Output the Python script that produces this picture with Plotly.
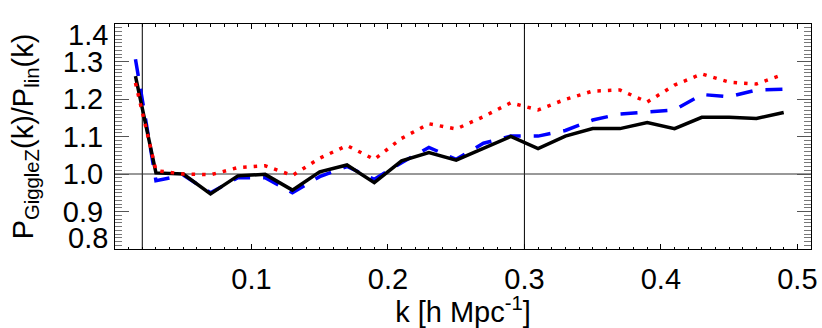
import plotly.graph_objects as go

k = [0.015, 0.03, 0.05, 0.07, 0.09, 0.11, 0.13, 0.15, 0.17, 0.19, 0.21, 0.23, 0.25,
     0.27, 0.29, 0.31, 0.33, 0.35, 0.37, 0.39, 0.41, 0.43, 0.45, 0.47, 0.49]

ratio_solid = [1.261, 1.003, 1.000, 0.947, 0.995, 0.999, 0.957, 1.006, 1.024, 0.977,
               1.035, 1.057, 1.037, 1.069, 1.100, 1.068, 1.101, 1.121, 1.121, 1.137,
               1.121, 1.151, 1.151, 1.148, 1.164]

ratio_dashed = [1.306, 0.982, 0.997, 0.950, 0.990, 0.990, 0.950, 0.993, 1.020, 0.986,
                1.030, 1.071, 1.039, 1.082, 1.101, 1.101, 1.116, 1.144, 1.160, 1.165,
                1.171, 1.212, 1.206, 1.224, 1.226]

ratio_dotted = [1.243, 1.009, 1.000, 0.998, 1.017, 1.022, 0.996, 1.042, 1.076, 1.039,
                1.095, 1.134, 1.120, 1.153, 1.190, 1.171, 1.199, 1.221, 1.224, 1.192,
                1.237, 1.267, 1.245, 1.240, 1.266]

x_ticks = [0.1, 0.2, 0.3, 0.4, 0.5]
x_tick_labels = ["0.1", "0.2", "0.3", "0.4", "0.5"]
y_ticks = [0.9, 1.0, 1.1, 1.2, 1.3]
y_tick_labels = ["0.9", "1.0", "1.1", "1.2", "1.3"]
# end labels are drawn pulled inward from the frame, as in the reference
y_end_label_pos = [0.829, 1.371]
y_end_labels = ["0.8", "1.4"]
ref_k = [0.02, 0.3]
ref_ratio = 1.0

FONT = "Liberation Sans, Arial, Helvetica, sans-serif"

fig = go.Figure()
fig.add_trace(go.Scatter(x=k, y=ratio_dashed, mode="lines",
                         line=dict(color="#0000ff", width=3.5, dash="17px,13px"),
                         showlegend=False))
fig.add_trace(go.Scatter(x=k, y=ratio_solid, mode="lines",
                         line=dict(color="#000000", width=3.5),
                         showlegend=False))
fig.add_trace(go.Scatter(x=k, y=ratio_dotted, mode="lines",
                         line=dict(color="#ff0000", width=3.5, dash="3.5px,7px"),
                         showlegend=False))

for xv in ref_k:
    fig.add_shape(type="line", xref="x", yref="paper", x0=xv, x1=xv, y0=0, y1=1,
                  line=dict(color="black", width=1), layer="below")
fig.add_shape(type="line", xref="paper", yref="y", x0=0, x1=1, y0=ref_ratio, y1=ref_ratio,
              line=dict(color="#333333", width=1), layer="below")

for pos, lab in zip(y_end_label_pos, y_end_labels):
    fig.add_annotation(x=0, xref="paper", y=pos, yref="y", text=lab, showarrow=False,
                       xanchor="right", yanchor="middle", xshift=-5,
                       font=dict(family=FONT, size=29, color="black"))

fig.update_layout(
    width=822, height=328,
    margin=dict(l=115, r=11, t=24, b=79),
    paper_bgcolor="white", plot_bgcolor="white",
    font=dict(family=FONT, color="black", size=29),
)
fig.update_xaxes(
    range=[0, 0.51], showgrid=False, zeroline=False,
    showline=True, linecolor="black", linewidth=1, mirror="ticks",
    ticks="inside", ticklen=5, tickwidth=1, tickcolor="black",
    tickvals=x_ticks, ticktext=x_tick_labels, tickfont=dict(size=29),
    ticklabelstandoff=4,
    minor=dict(dtick=0.01, tick0=0, ticks="inside", ticklen=2.5, tickcolor="black", tickwidth=1),
    title=dict(text="k [h Mpc<sup>-1</sup>]", font=dict(size=29), standoff=2),
    automargin=False,
)
fig.update_yaxes(
    range=[0.8, 1.4], showgrid=False, zeroline=False,
    showline=True, linecolor="black", linewidth=1, mirror="ticks",
    ticks="inside", ticklen=14, tickwidth=1, tickcolor="#555555",
    tickvals=y_ticks, ticktext=y_tick_labels, tickfont=dict(size=29),
    ticklabelstandoff=5,
    minor=dict(dtick=0.01, tick0=0, ticks="inside", ticklen=7, tickcolor="#777777", tickwidth=1),
    title=dict(text="P<sub>GiggleZ</sub>(k)/P<sub>lin</sub>(k)", font=dict(size=29), standoff=20),
    automargin=False,
)

fig.write_html("out.html", config={"displayModeBar": False},
               post_script="document.body.style.margin='0';")
